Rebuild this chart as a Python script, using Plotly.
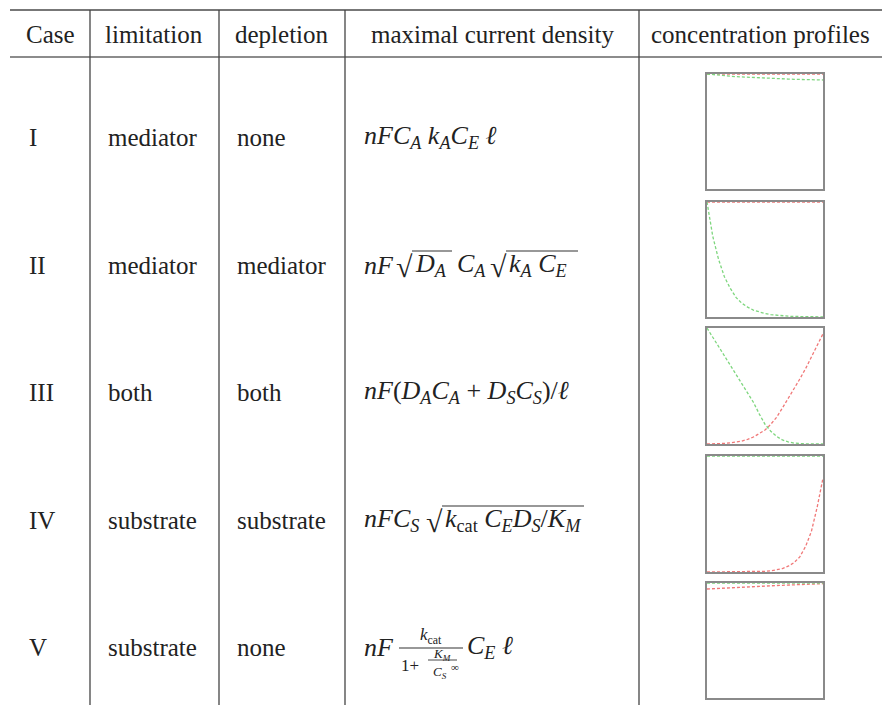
import plotly.graph_objects as go

# ---------------- data ----------------
header = ["Case", "limitation", "depletion", "maximal current density", "concentration profiles"]
cases = ["I", "II", "III", "IV", "V"]
limitation = ["mediator", "mediator", "both", "substrate", "substrate"]
depletion = ["none", "mediator", "both", "substrate", "none"]

xgrid = [0.0, 0.05, 0.1, 0.15, 0.2, 0.25, 0.3, 0.35, 0.4, 0.45, 0.5,
         0.55, 0.6, 0.65, 0.7, 0.75, 0.8, 0.85, 0.9, 0.95, 1.0]

# red = substrate profile, green = mediator profile (normalized)
red_I = [1.0] * 21
green_I = [1.0, 0.994, 0.989, 0.985, 0.981, 0.977, 0.974, 0.971, 0.968, 0.966, 0.964,
           0.962, 0.960, 0.958, 0.956, 0.954, 0.953, 0.952, 0.950, 0.949, 0.948]
red_II = [1.0] * 21
green_II = [1.0, 0.70, 0.50, 0.35, 0.25, 0.17, 0.12, 0.086, 0.06, 0.043, 0.03,
            0.021, 0.015, 0.011, 0.007, 0.005, 0.004, 0.003, 0.002, 0.001, 0.001]
red_III = [0.0, 0.0, 0.002, 0.005, 0.01, 0.016, 0.025, 0.04, 0.06, 0.09, 0.12,
           0.17, 0.23, 0.31, 0.39, 0.47, 0.56, 0.65, 0.75, 0.85, 0.95]
green_III = [1.0, 0.92, 0.85, 0.77, 0.69, 0.61, 0.53, 0.45, 0.36, 0.26, 0.17,
             0.11, 0.065, 0.035, 0.018, 0.008, 0.003, 0.001, 0.0, 0.0, 0.0]
red_IV = [0.0, 0.0, 0.0, 0.0, 0.0, 0.001, 0.001, 0.002, 0.003, 0.004, 0.006,
          0.01, 0.018, 0.03, 0.05, 0.08, 0.13, 0.22, 0.35, 0.56, 0.81]
green_IV = [1.0] * 21
red_V = [0.948, 0.951, 0.954, 0.957, 0.960, 0.963, 0.966, 0.968, 0.970, 0.972, 0.974,
         0.976, 0.978, 0.980, 0.982, 0.984, 0.986, 0.988, 0.990, 0.992, 0.994]
green_V = [1.0] * 21

reds = [red_I, red_II, red_III, red_IV, red_V]
greens = [green_I, green_II, green_III, green_IV, green_V]

# ---------------- layout helpers ----------------
W, H = 882, 705
FONT = "Liberation Serif"
TXT = "#222222"

row_y = [137, 265, 392, 520, 647]            # text centre of each row (px)
plot_boxes = [(74, 189), (202, 317), (328, 444), (456, 572), (583, 698)]
px0, px1 = 707, 823
col_lines = [90, 219, 345, 639]
col_left = [27, 106, 235, 362]
hdr_cx = [50, 154, 282, 492, 760]

fig = go.Figure()

# invisible main pixel axis
fig.add_trace(go.Scatter(x=[0, W], y=[0, H], mode="markers",
                         marker=dict(opacity=0), hoverinfo="skip", showlegend=False,
                         xaxis="x", yaxis="y"))

layout = dict(
    width=W, height=H, margin=dict(l=0, r=0, t=0, b=0),
    paper_bgcolor="white", plot_bgcolor="rgba(0,0,0,0)", showlegend=False,
    font=dict(family=FONT),
    xaxis=dict(domain=[0, 1], range=[0, W], visible=False, fixedrange=True),
    yaxis=dict(domain=[0, 1], range=[H, 0], visible=False, fixedrange=True),
)

for i, (t, b) in enumerate(plot_boxes):
    k = i + 2
    xa, ya = f"xaxis{k}", f"yaxis{k}"
    layout[xa] = dict(domain=[px0 / W, px1 / W], range=[0, 1], anchor=f"y{k}",
                      showgrid=False, zeroline=False, showticklabels=False, ticks="",
                      showline=True, mirror=True, linecolor="#8a8a8a", linewidth=1.5)
    layout[ya] = dict(domain=[1 - b / H, 1 - t / H], range=[0, 1], anchor=f"x{k}",
                      showgrid=False, zeroline=False, showticklabels=False, ticks="",
                      showline=True, mirror=True, linecolor="#8a8a8a", linewidth=1.5)
    fig.add_trace(go.Scatter(x=xgrid, y=reds[i], mode="lines", xaxis=f"x{k}", yaxis=f"y{k}",
                             line=dict(color="#f07878", width=1.3, dash="3px,2px"),
                             showlegend=False, hoverinfo="skip"))
    fig.add_trace(go.Scatter(x=xgrid, y=greens[i], mode="lines", xaxis=f"x{k}", yaxis=f"y{k}",
                             line=dict(color="#7ed67e", width=1.3, dash="3px,2px"),
                             showlegend=False, hoverinfo="skip"))

shapes = []
def hline(x0, x1, y, w=1.2, c="#555555"):
    shapes.append(dict(type="line", xref="x", yref="y", x0=x0, x1=x1, y0=y, y1=y,
                       line=dict(color=c, width=w)))
def vline(x, y0, y1, w=1.2, c="#555555"):
    shapes.append(dict(type="line", xref="x", yref="y", x0=x, x1=x, y0=y0, y1=y1,
                       line=dict(color=c, width=w)))

hline(10, W, 10, 2.0, "#777777")
hline(10, W, 57, 1.3, "#666666")
for x in col_lines:
    vline(x, 10, H, 1.3, "#444444")

annos = []
def txt(x, y, s, size=25, xanchor="left"):
    annos.append(dict(x=x, y=y, xref="x", yref="y", text=s, showarrow=False,
                      xanchor=xanchor, yanchor="middle",
                      font=dict(family=FONT, size=size, color=TXT)))

for cx, h in zip(hdr_cx, header):
    txt(cx, 34, h, xanchor="center")

for i in range(5):
    txt(col_left[0], row_y[i], cases[i])
    txt(col_left[1], row_y[i], limitation[i])
    txt(col_left[2], row_y[i], depletion[i])

def it(s):
    return f"<i>{s}</i>"
def sub(s):
    return f"<sub>{s}</sub>"

MS = 26  # math size
# case I
txt(362, row_y[0], it("nFC") + sub(it("A")) + " " + it("k") + sub(it("A")) + it("C") + sub(it("E")) + " " + it("ℓ"), size=MS)

# case II: pieces with radical overlines
y2 = row_y[1]
txt(362, y2, it("nF"), size=MS)
txt(394, y2 + 1, "√", size=30)
txt(413, y2, it("D") + sub(it("A")), size=MS)
hline(412, 452, y2 - 14, 1.1, "#333333")
txt(455, y2, it("C") + sub(it("A")), size=MS)
txt(488, y2 + 1, "√", size=30)
txt(507, y2, it("k") + sub(it("A")) + " " + it("C") + sub(it("E")), size=MS)
hline(506, 578, y2 - 14, 1.1, "#333333")

# case III
txt(362, row_y[2], it("nF") + "(" + it("D") + sub(it("A")) + it("C") + sub(it("A")) + " + " +
    it("D") + sub(it("S")) + it("C") + sub(it("S")) + ")/" + it("ℓ"), size=MS)

# case IV
y4 = row_y[3]
txt(362, y4, it("nFC") + sub(it("S")), size=MS)
txt(424, y4 + 1, "√", size=30)
txt(443, y4, it("k") + sub("cat") + " " + it("C") + sub(it("E")) + it("D") + sub(it("S")) + "/" +
    it("K") + sub(it("M")), size=MS)
hline(442, 584, y4 - 14, 1.1, "#333333")

# case V: fraction built from pieces
y5 = row_y[4]
txt(362, y5, it("nF"), size=MS)
txt(431, y5 - 11, it("k") + sub("cat"), size=17, xanchor="center")
hline(399, 463, y5 + 1, 1.1, "#333333")
txt(399, y5 + 18, "1+", size=17)
txt(442, y5 + 7, it("K") + sub(it("M")), size=13, xanchor="center")
hline(428, 457, y5 + 13, 0.9, "#333333")
txt(440, y5 + 25, it("C") + sub(it("S")), size=13, xanchor="center")
txt(449, y5 + 20, "∞", size=11, xanchor="left")
txt(465, y5, it("C") + sub(it("E")) + " " + it("ℓ"), size=MS)

layout["shapes"] = shapes
layout["annotations"] = annos
fig.update_layout(**layout)
fig.write_html("out.html")
